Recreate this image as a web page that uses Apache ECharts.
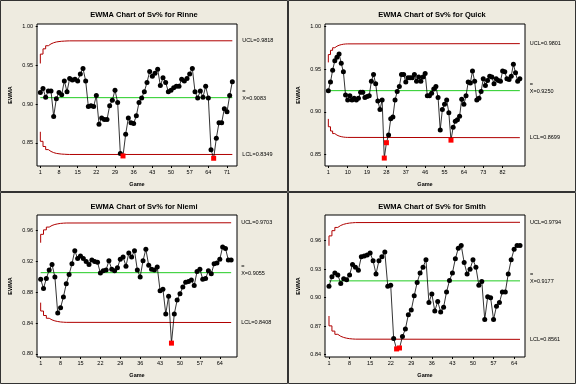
<!DOCTYPE html>
<html><head><meta charset="utf-8">
<script src="https://cdn.jsdelivr.net/npm/echarts@6/dist/echarts.min.js"></script>
<style>html,body{margin:0;padding:0;background:#EEEBE0}#c{width:576px;height:384px}</style>
</head><body><div id="c"></div>
<script>
// ---- data ----
const titles = ['EWMA Chart of Sv% for Rinne','EWMA Chart of Sv% for Quick','EWMA Chart of Sv% for Niemi','EWMA Chart of Sv% for Smith'];

const rinne = [0.915,0.920,0.909,0.917,0.917,0.884,0.907,0.915,0.912,0.930,
 0.916,0.933,0.931,0.932,0.930,0.939,0.946,0.930,0.897,0.898,
 0.897,0.911,0.874,0.882,0.880,0.880,0.898,0.905,0.918,0.902,
 0.836,0.833,0.861,0.882,0.876,0.875,0.885,0.902,0.908,0.916,
 0.928,0.942,0.936,0.940,0.945,0.924,0.934,0.928,0.916,0.918,
 0.921,0.923,0.923,0.932,0.930,0.933,0.939,0.946,0.916,0.908,
 0.917,0.909,0.923,0.908,0.841,0.830,0.856,0.876,0.876,0.894,
 0.890,0.911,0.929];
const quick = [0.925,0.935,0.949,0.960,0.964,0.968,0.957,0.947,0.920,0.914,
 0.919,0.914,0.916,0.914,0.916,0.923,0.923,0.917,0.918,0.919,
 0.936,0.944,0.933,0.913,0.903,0.914,0.846,0.864,0.873,0.892,
 0.894,0.914,0.924,0.930,0.944,0.944,0.935,0.940,0.940,0.940,
 0.944,0.936,0.941,0.936,0.941,0.945,0.919,0.919,0.922,0.927,
 0.930,0.917,0.879,0.903,0.909,0.914,0.899,0.867,0.882,0.889,
 0.891,0.895,0.915,0.909,0.919,0.935,0.934,0.948,0.936,0.914,
 0.916,0.924,0.939,0.931,0.937,0.942,0.941,0.933,0.939,0.937,
 0.936,0.948,0.947,0.939,0.938,0.942,0.956,0.946,0.936,0.939];
const niemi = [0.897,0.885,0.898,0.909,0.916,0.900,0.853,0.860,0.874,0.891,
 0.903,0.917,0.934,0.924,0.927,0.924,0.920,0.916,0.922,0.920,
 0.919,0.905,0.908,0.909,0.921,0.910,0.908,0.912,0.923,0.926,
 0.914,0.931,0.926,0.934,0.909,0.900,0.921,0.936,0.915,0.910,
 0.909,0.913,0.882,0.884,0.852,0.875,0.814,0.852,0.870,0.878,
 0.887,0.893,0.894,0.896,0.889,0.907,0.910,0.897,0.898,0.908,
 0.904,0.917,0.918,0.923,0.939,0.937,0.922,0.922];
const smith = [0.912,0.922,0.926,0.924,0.915,0.920,0.919,0.924,0.935,0.932,
 0.929,0.943,0.944,0.945,0.947,0.939,0.925,0.939,0.943,0.948,
 0.912,0.913,0.857,0.846,0.847,0.859,0.867,0.882,0.887,0.902,
 0.916,0.926,0.932,0.940,0.895,0.904,0.886,0.896,0.885,0.890,
 0.906,0.918,0.926,0.941,0.952,0.955,0.937,0.925,0.930,0.940,
 0.932,0.913,0.917,0.877,0.901,0.900,0.877,0.891,0.895,0.906,
 0.906,0.925,0.940,0.951,0.955,0.955];

const centers = [0.9083, 0.9250, 0.9055, 0.9177];
const ucls = [0.9818, 0.9801, 0.9703, 0.9794];
const lcls = [0.8349, 0.8699, 0.8408, 0.8561];

// early (widening) control limits, one per game, before they settle
const rinneUclStart = [0.9525,0.9646,0.9714,0.9754,0.9778,0.9793,0.9803,0.9808,0.9812,0.9814,0.9816,0.9817];
const rinneLclStart = [0.8642,0.8519,0.8452,0.8412,0.8388,0.8373,0.8363,0.8358,0.8354,0.8352,0.8350,0.8349];
const quickUclStart = [0.9581,0.9673,0.9723,0.9753,0.9771,0.9782,0.9789,0.9794,0.9797,0.9798];
const quickLclStart = [0.8919,0.8827,0.8777,0.8747,0.8729,0.8718,0.8711,0.8706,0.8703,0.8702];
const niemiUclStart = [0.9444,0.9553,0.9611,0.9647,0.9668,0.9681,0.9689,0.9695,0.9698,0.9700];
const niemiLclStart = [0.8666,0.8557,0.8499,0.8463,0.8442,0.8429,0.8421,0.8415,0.8412,0.8410];
const smithUclStart = [0.9547,0.9651,0.9706,0.9740,0.9761,0.9773,0.9781,0.9786,0.9789,0.9791];
const smithLclStart = [0.8807,0.8703,0.8648,0.8614,0.8593,0.8581,0.8573,0.8568,0.8565,0.8563];

const rinneXTicks = [1,8,15,22,29,36,43,50,57,64,71];
const quickXTicks = [1,10,19,28,37,46,55,64,73,82];
const niemiXTicks = [1,8,15,22,29,36,43,50,57,64];
const smithXTicks = [1,8,15,22,29,36,43,50,57,64];
const rinneYTicks = [0.85,0.90,0.95,1.00];
const quickYTicks = [0.85,0.90,0.95,1.00];
const niemiYTicks = [0.80,0.84,0.88,0.92,0.96];
const smithYTicks = [0.84,0.87,0.90,0.93,0.96];

// ---- layout ----
const panels = [
 {data: rinne, us: rinneUclStart, ls: rinneLclStart, xt: rinneXTicks, yt: rinneYTicks, xr: [-0.25, 74.75], yr: [0.820, 1.0035], left: 37, top: 24, ox: 0, oy: 0},
 {data: quick, us: quickUclStart, ls: quickLclStart, xt: quickXTicks, yt: quickYTicks, xr: [-0.55, 92.4], yr: [0.8367, 1.0031], left: 325, top: 24, ox: 288, oy: 0},
 {data: niemi, us: niemiUclStart, ls: niemiLclStart, xt: niemiXTicks, yt: niemiYTicks, xr: [-0.29, 70.05], yr: [0.796, 0.9804], left: 37, top: 215, ox: 0, oy: 192},
 {data: smith, us: smithUclStart, ls: smithLclStart, xt: smithXTicks, yt: smithYTicks, xr: [-0.36, 67.7], yr: [0.8375, 0.9871], left: 325, top: 215, ox: 288, oy: 192}
];

const FONT = 'Liberation Sans, Arial, sans-serif';
const RED = '#B00000', GREEN = '#22CC22';
const grids = [], xAxes = [], yAxes = [], series = [], graphics = [];

panels.forEach((p, i) => {
  const n = p.data.length;
  grids.push({left: p.left, top: p.top, width: 200, height: 142, show: true, backgroundColor: '#fff', borderColor: '#000', borderWidth: 1});
  xAxes.push({type: 'value', gridIndex: i, min: p.xr[0], max: p.xr[1],
    name: 'Game', nameLocation: 'middle', nameGap: 15,
    nameTextStyle: {fontFamily: FONT, fontSize: 5.5, fontWeight: 'bold', color: '#000'},
    axisLine: {show: false}, splitLine: {show: false},
    axisTick: {show: true, length: 2, lineStyle: {color: '#000'}, customValues: p.xt},
    axisLabel: {fontFamily: FONT, fontSize: 5.5, color: '#000', margin: 3, customValues: p.xt, formatter: v => String(v)}});
  yAxes.push({type: 'value', gridIndex: i, min: p.yr[0], max: p.yr[1],
    name: 'EWMA', nameLocation: 'middle', nameGap: 24,
    nameTextStyle: {fontFamily: FONT, fontSize: 5.5, fontWeight: 'bold', color: '#000'},
    axisLine: {show: false}, splitLine: {show: false},
    axisTick: {show: true, length: 2, lineStyle: {color: '#000'}, customValues: p.yt},
    axisLabel: {fontFamily: FONT, fontSize: 5.5, color: '#000', margin: 4, customValues: p.yt, formatter: v => v.toFixed(2)}});

  const lblBase = {show: true, color: '#000', fontFamily: FONT, fontSize: 5.5, distance: 10};
  const uData = p.us.map((v, k) => [k + 1, v]).concat([[n, ucls[i]]]);
  const lData = p.ls.map((v, k) => [k + 1, v]).concat([[n, lcls[i]]]);
  series.push({type: 'line', xAxisIndex: i, yAxisIndex: i, step: 'start', symbol: 'none', silent: true,
    lineStyle: {color: RED, width: 1}, data: uData, z: 2,
    endLabel: Object.assign({}, lblBase, {formatter: 'UCL=' + ucls[i].toFixed(4)})});
  series.push({type: 'line', xAxisIndex: i, yAxisIndex: i, step: 'start', symbol: 'none', silent: true,
    lineStyle: {color: RED, width: 1}, data: lData, z: 2,
    endLabel: Object.assign({}, lblBase, {formatter: 'LCL=' + lcls[i].toFixed(4)})});
  series.push({type: 'line', xAxisIndex: i, yAxisIndex: i, symbol: 'none', silent: true,
    lineStyle: {color: GREEN, width: 1}, data: [[1, centers[i]], [n, centers[i]]], z: 2,
    endLabel: Object.assign({}, lblBase, {formatter: '{o|=}\nX=' + centers[i].toFixed(4), lineHeight: 7, offset: [0, -3],
      rich: {o: {fontFamily: FONT, fontSize: 5.5, fontWeight: 'bold', lineHeight: 7}}})});
  series.push({type: 'line', xAxisIndex: i, yAxisIndex: i, symbol: 'circle', symbolSize: 5, silent: true, z: 3,
    lineStyle: {color: '#000', width: 0.8}, itemStyle: {color: '#000'},
    data: p.data.map((v, k) => (v < lcls[i] || v > ucls[i])
      ? {value: [k + 1, v], symbol: 'rect', symbolSize: 5, itemStyle: {color: '#FF0000'}}
      : {value: [k + 1, v]})});

  graphics.push({type: 'rect', shape: {x: p.ox + 0.5, y: p.oy + 0.5, width: 287, height: 191},
    style: {fill: null, stroke: '#333', lineWidth: 1}, silent: true, z: 0});
  graphics.push({type: 'text', x: p.ox + 144, y: p.oy + 15,
    style: {text: titles[i], textAlign: 'center', textVerticalAlign: 'middle', fill: '#000',
      font: 'bold 7.5px ' + FONT}, silent: true});
});

const chart = echarts.init(document.getElementById('c'), null, {renderer: 'canvas'});
chart.setOption({animation: false, backgroundColor: '#EEEBE0', grid: grids, xAxis: xAxes, yAxis: yAxes, series: series, graphic: graphics});
</script></body></html>
